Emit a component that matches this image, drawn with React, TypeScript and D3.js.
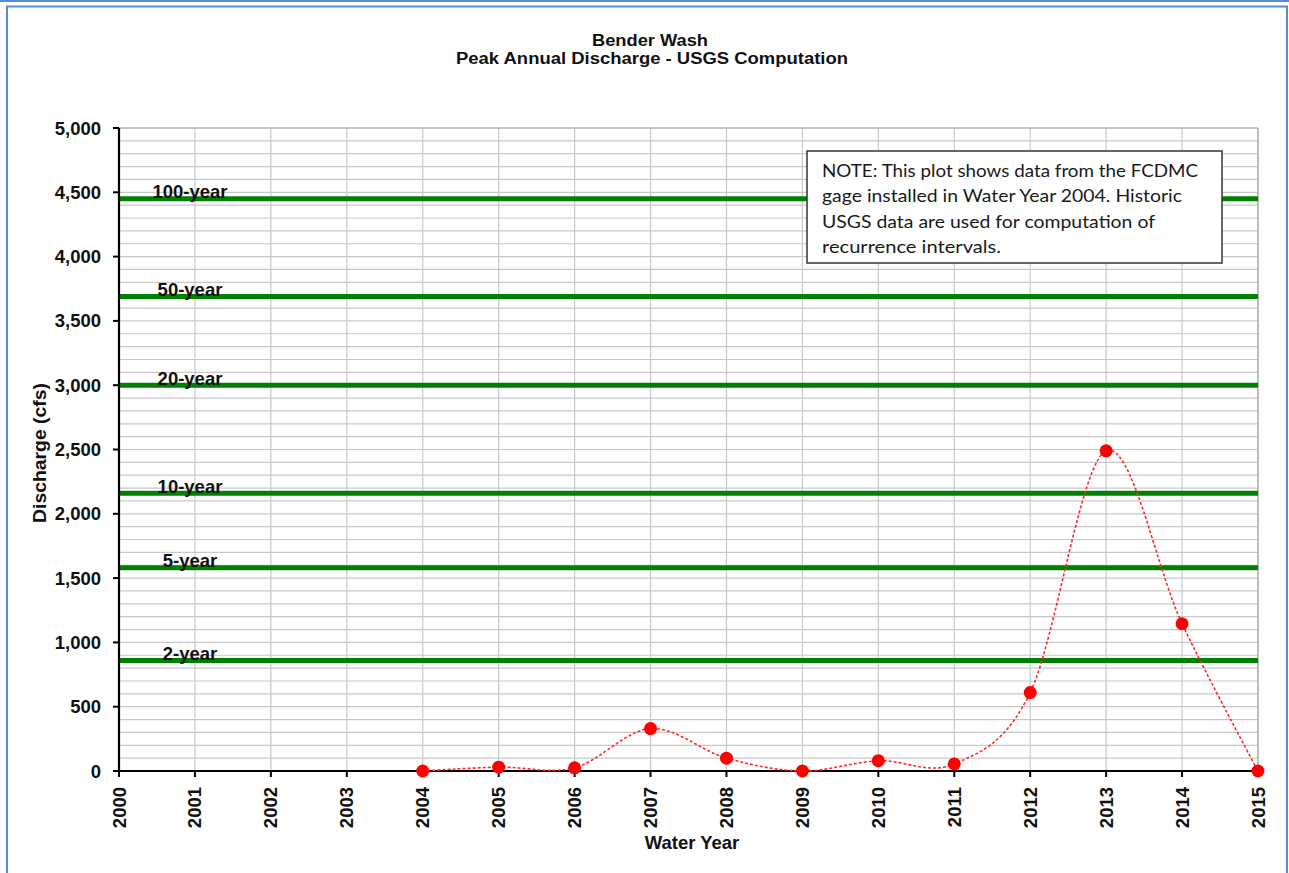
import React from "react";
import * as d3 from "d3";

const years = [2004, 2005, 2006, 2007, 2008, 2009, 2010, 2011, 2012, 2013, 2014, 2015];
const discharge = [0, 30, 25, 330, 100, 0, 80, 55, 610, 2490, 1145, 0];

const recurrenceLabels = ["100-year", "50-year", "20-year", "10-year", "5-year", "2-year"];
const recurrenceValues = [4450, 3690, 3000, 2160, 1580, 860];

const xTickYears = d3.range(2000, 2016);
const yMajorTicks = d3.range(0, 5001, 500);
const yMinorTicks = d3.range(0, 5001, 100);

const titleLines = ["Bender Wash", "Peak Annual Discharge  - USGS Computation"];
const noteLines = [
  "NOTE: This plot shows data from the FCDMC",
  "gage installed in Water Year 2004.  Historic",
  "USGS data are used for computation of",
  "recurrence intervals.",
];
const noteWidths = [376, 360, 333, 179];

const W = 1289;
const H = 873;
const plot = { left: 119, right: 1258, top: 128, bottom: 771 };

export default function App() {
  const x = d3.scaleLinear().domain([2000, 2015]).range([plot.left, plot.right]);
  const y = d3.scaleLinear().domain([0, 5000]).range([plot.bottom, plot.top]);
  const pts: [number, number][] = years.map((yr, i) => [x(yr), y(discharge[i])]);
  const line = d3.line().curve(d3.curveCardinal.tension(0))(pts) || "";
  const font = "'Liberation Sans', Arial, sans-serif";
  const fs = 18.5;

  return (
    <svg width={W} height={H} style={{ position: "absolute", left: 0, top: 0, background: "#fff" }}>
      <rect x={0} y={0} width={W} height={H} fill="#fff" />
      {/* frame */}
      <line x1={0} x2={W} y1={1} y2={1} stroke="#5b8bd0" strokeWidth={2} />
      <rect x={7} y={6.5} width={1280} height={H + 20} fill="#fff" stroke="#5b8bd0" strokeWidth={2} />

      {/* title */}
      <text x={650} y={46} textAnchor="middle" fontFamily={font} fontWeight="bold" fontSize={16} fill="#111"
        textLength={116} lengthAdjust="spacingAndGlyphs">{titleLines[0]}</text>
      <text x={652} y={64} textAnchor="middle" fontFamily={font} fontWeight="bold" fontSize={16} fill="#111"
        textLength={392} lengthAdjust="spacingAndGlyphs">{titleLines[1]}</text>

      {/* gridlines */}
      {yMinorTicks.map((v) => (
        <line key={"h" + v} x1={plot.left} x2={plot.right} y1={y(v)} y2={y(v)} stroke="#c8c8c8" strokeWidth={1.2} />
      ))}
      {xTickYears.map((yr) => (
        <line key={"v" + yr} x1={x(yr)} x2={x(yr)} y1={plot.top} y2={plot.bottom} stroke="#c8c8c8" strokeWidth={1.2} />
      ))}
      <line x1={plot.left} x2={plot.right} y1={plot.top} y2={plot.top} stroke="#a8a8a8" strokeWidth={1.2} />
      <line x1={plot.right} x2={plot.right} y1={plot.top} y2={plot.bottom} stroke="#a8a8a8" strokeWidth={1.2} />

      {/* recurrence lines */}
      {recurrenceValues.map((v, i) => (
        <g key={"r" + i}>
          <line x1={plot.left} x2={plot.right} y1={y(v)} y2={y(v)} stroke="#008000" strokeWidth={5} />
          <text x={190} y={y(v) - 0.5} textAnchor="middle" fontFamily={font} fontWeight="bold" fontSize={fs}
            fill="#111">{recurrenceLabels[i]}</text>
        </g>
      ))}

      {/* note box */}
      <rect x={807} y={151} width={415} height={112} fill="#fff" stroke="#333" strokeWidth={1.5} />
      {noteLines.map((t, i) => (
        <text key={"n" + i} x={822} y={177 + i * 25.3} fontFamily="Lato, 'Open Sans', sans-serif" fontSize={17.5}
          fill="#1a1a1a" textLength={noteWidths[i]} lengthAdjust="spacingAndGlyphs">{t}</text>
      ))}

      {/* axes */}
      <line x1={plot.left} x2={plot.left} y1={plot.top} y2={plot.bottom + 1} stroke="#000" strokeWidth={2.2} />
      <line x1={plot.left - 1} x2={plot.right} y1={plot.bottom} y2={plot.bottom} stroke="#000" strokeWidth={2.2} />
      {yMajorTicks.map((v) => (
        <g key={"yt" + v}>
          <line x1={plot.left - 6} x2={plot.left} y1={y(v)} y2={y(v)} stroke="#000" strokeWidth={2} />
          <text x={101} y={y(v) + 6.5} textAnchor="end" fontFamily={font} fontWeight="bold" fontSize={fs} fill="#111">
            {d3.format(",")(v)}
          </text>
        </g>
      ))}
      {xTickYears.map((yr) => (
        <g key={"xt" + yr}>
          <line x1={x(yr)} x2={x(yr)} y1={plot.bottom} y2={plot.bottom + 6} stroke="#000" strokeWidth={2} />
          <text transform={`translate(${x(yr) + 6.5},${787}) rotate(-90)`} textAnchor="end" fontFamily={font}
            fontWeight="bold" fontSize={fs} fill="#111">{yr}</text>
        </g>
      ))}

      {/* axis titles */}
      <text transform={`translate(${46},${453}) rotate(-90)`} textAnchor="middle" fontFamily={font} fontWeight="bold"
        fontSize={fs} fill="#111" textLength={140} lengthAdjust="spacingAndGlyphs">Discharge  (cfs)</text>
      <text x={692} y={849} textAnchor="middle" fontFamily={font} fontWeight="bold" fontSize={fs} fill="#111">
        Water Year
      </text>

      {/* data */}
      <path d={line} fill="none" stroke="#ff2a2a" strokeWidth={1.6} strokeDasharray="3 2" />
      {pts.map((p, i) => (
        <circle key={"c" + i} cx={p[0]} cy={p[1]} r={6.5} fill="#ff0000" />
      ))}
    </svg>
  );
}
